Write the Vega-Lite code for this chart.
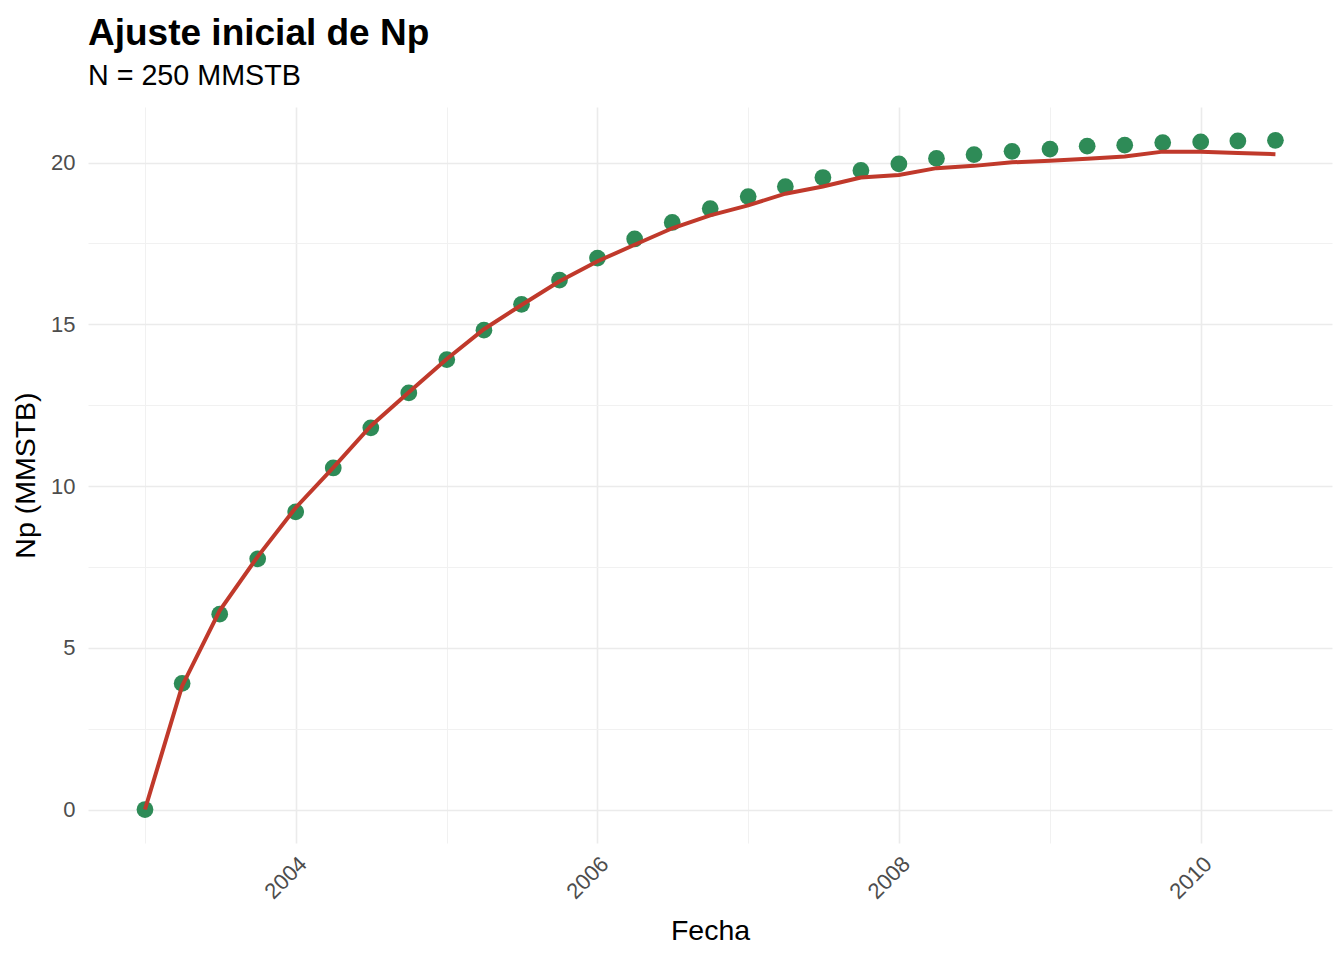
{
  "$schema": "https://vega.github.io/schema/vega-lite/v6.json",
  "autosize": "none",
  "width": 1244,
  "height": 736,
  "padding": {"left": 88, "top": 107, "right": 12, "bottom": 117},
  "background": "white",
  "title": {
    "text": "Ajuste inicial de Np",
    "subtitle": "N = 250 MMSTB",
    "anchor": "start",
    "frame": "group",
    "font": "Liberation Sans",
    "fontSize": 37,
    "fontWeight": "bold",
    "color": "#000000",
    "subtitleFont": "Liberation Sans",
    "subtitleFontSize": 28.7,
    "subtitleColor": "#000000",
    "subtitlePadding": 9,
    "offset": 15
  },
  "config": {
    "view": {"stroke": "transparent"},
    "axis": {
      "labelFont": "Liberation Sans",
      "titleFont": "Liberation Sans",
      "labelFontSize": 22,
      "titleFontSize": 28.5,
      "titleFontWeight": "normal",
      "labelColor": "#4d4d4d",
      "titleColor": "#000000",
      "domain": false,
      "ticks": false
    }
  },
  "data": {
    "values": [
      {"fecha": "2003-01-01T00:00", "np_obs": 0.00, "np_ajuste": 0.00},
      {"fecha": "2003-04-01T00:00", "np_obs": 3.90, "np_ajuste": 3.82},
      {"fecha": "2003-07-01T00:00", "np_obs": 6.04, "np_ajuste": 6.15},
      {"fecha": "2003-10-01T00:00", "np_obs": 7.75, "np_ajuste": 7.82},
      {"fecha": "2004-01-01T00:00", "np_obs": 9.20, "np_ajuste": 9.33},
      {"fecha": "2004-04-01T00:00", "np_obs": 10.56, "np_ajuste": 10.57},
      {"fecha": "2004-07-01T00:00", "np_obs": 11.80, "np_ajuste": 11.86},
      {"fecha": "2004-10-01T00:00", "np_obs": 12.88, "np_ajuste": 12.90},
      {"fecha": "2005-01-01T00:00", "np_obs": 13.91, "np_ajuste": 13.93},
      {"fecha": "2005-04-01T00:00", "np_obs": 14.82, "np_ajuste": 14.85},
      {"fecha": "2005-07-01T00:00", "np_obs": 15.62, "np_ajuste": 15.60},
      {"fecha": "2005-10-01T00:00", "np_obs": 16.37, "np_ajuste": 16.33},
      {"fecha": "2006-01-01T00:00", "np_obs": 17.05, "np_ajuste": 16.95},
      {"fecha": "2006-04-01T00:00", "np_obs": 17.64, "np_ajuste": 17.46},
      {"fecha": "2006-07-01T00:00", "np_obs": 18.15, "np_ajuste": 17.97},
      {"fecha": "2006-10-01T00:00", "np_obs": 18.58, "np_ajuste": 18.37},
      {"fecha": "2007-01-01T00:00", "np_obs": 18.95, "np_ajuste": 18.68},
      {"fecha": "2007-04-01T00:00", "np_obs": 19.26, "np_ajuste": 19.04},
      {"fecha": "2007-07-01T00:00", "np_obs": 19.54, "np_ajuste": 19.26},
      {"fecha": "2007-10-01T00:00", "np_obs": 19.76, "np_ajuste": 19.54},
      {"fecha": "2008-01-01T00:00", "np_obs": 19.96, "np_ajuste": 19.62},
      {"fecha": "2008-04-01T00:00", "np_obs": 20.13, "np_ajuste": 19.83},
      {"fecha": "2008-07-01T00:00", "np_obs": 20.25, "np_ajuste": 19.90},
      {"fecha": "2008-10-01T00:00", "np_obs": 20.35, "np_ajuste": 20.01},
      {"fecha": "2009-01-01T00:00", "np_obs": 20.42, "np_ajuste": 20.06},
      {"fecha": "2009-04-01T00:00", "np_obs": 20.51, "np_ajuste": 20.12},
      {"fecha": "2009-07-01T00:00", "np_obs": 20.54, "np_ajuste": 20.19},
      {"fecha": "2009-10-01T00:00", "np_obs": 20.62, "np_ajuste": 20.34},
      {"fecha": "2010-01-01T00:00", "np_obs": 20.64, "np_ajuste": 20.34},
      {"fecha": "2010-04-01T00:00", "np_obs": 20.67, "np_ajuste": 20.30},
      {"fecha": "2010-07-01T00:00", "np_obs": 20.69, "np_ajuste": 20.26}
    ]
  },
  "encoding": {
    "x": {
      "field": "fecha",
      "type": "temporal",
      "title": "Fecha",
      "scale": {
        "domain": [
          {"year": 2002, "month": 8, "date": 16},
          {"year": 2010, "month": 11, "date": 15}
        ],
        "nice": false
      },
      "axis": {
        "values": [
          {"year": 2003, "month": 1, "date": 1},
          {"year": 2004, "month": 1, "date": 1},
          {"year": 2005, "month": 1, "date": 1},
          {"year": 2006, "month": 1, "date": 1},
          {"year": 2007, "month": 1, "date": 1},
          {"year": 2008, "month": 1, "date": 1},
          {"year": 2009, "month": 1, "date": 1},
          {"year": 2010, "month": 1, "date": 1}
        ],
        "format": "%Y",
        "labelExpr": "year(datum.value) % 2 === 0 ? datum.label : ''",
        "labelAngle": -45,
        "labelAlign": "right",
        "labelBaseline": "top",
        "labelPadding": 10,
        "titlePadding": 14,
        "gridColor": {"condition": {"test": "year(datum.value) % 2 === 0", "value": "#ebebeb"}, "value": "#f1f1f1"},
        "gridWidth": {"condition": {"test": "year(datum.value) % 2 === 0", "value": 1.6}, "value": 1}
      }
    },
    "y": {
      "type": "quantitative",
      "title": "Np (MMSTB)",
      "scale": {"domain": [-1.035, 21.72], "nice": false, "zero": false},
      "axis": {
        "values": [0, 2.5, 5, 7.5, 10, 12.5, 15, 17.5, 20],
        "labelExpr": "datum.value % 5 === 0 ? datum.label : ''",
        "labelPadding": 13,
        "titlePadding": 10,
        "gridColor": {"condition": {"test": "datum.value % 5 === 0", "value": "#ebebeb"}, "value": "#f1f1f1"},
        "gridWidth": {"condition": {"test": "datum.value % 5 === 0", "value": 1.6}, "value": 1}
      }
    }
  },
  "layer": [
    {
      "mark": {"type": "point", "filled": true, "opacity": 1, "size": 280, "color": "#2e8b57"},
      "encoding": {"y": {"field": "np_obs"}}
    },
    {
      "mark": {"type": "line", "color": "#c0392b", "strokeWidth": 4},
      "encoding": {"y": {"field": "np_ajuste"}}
    }
  ]
}
